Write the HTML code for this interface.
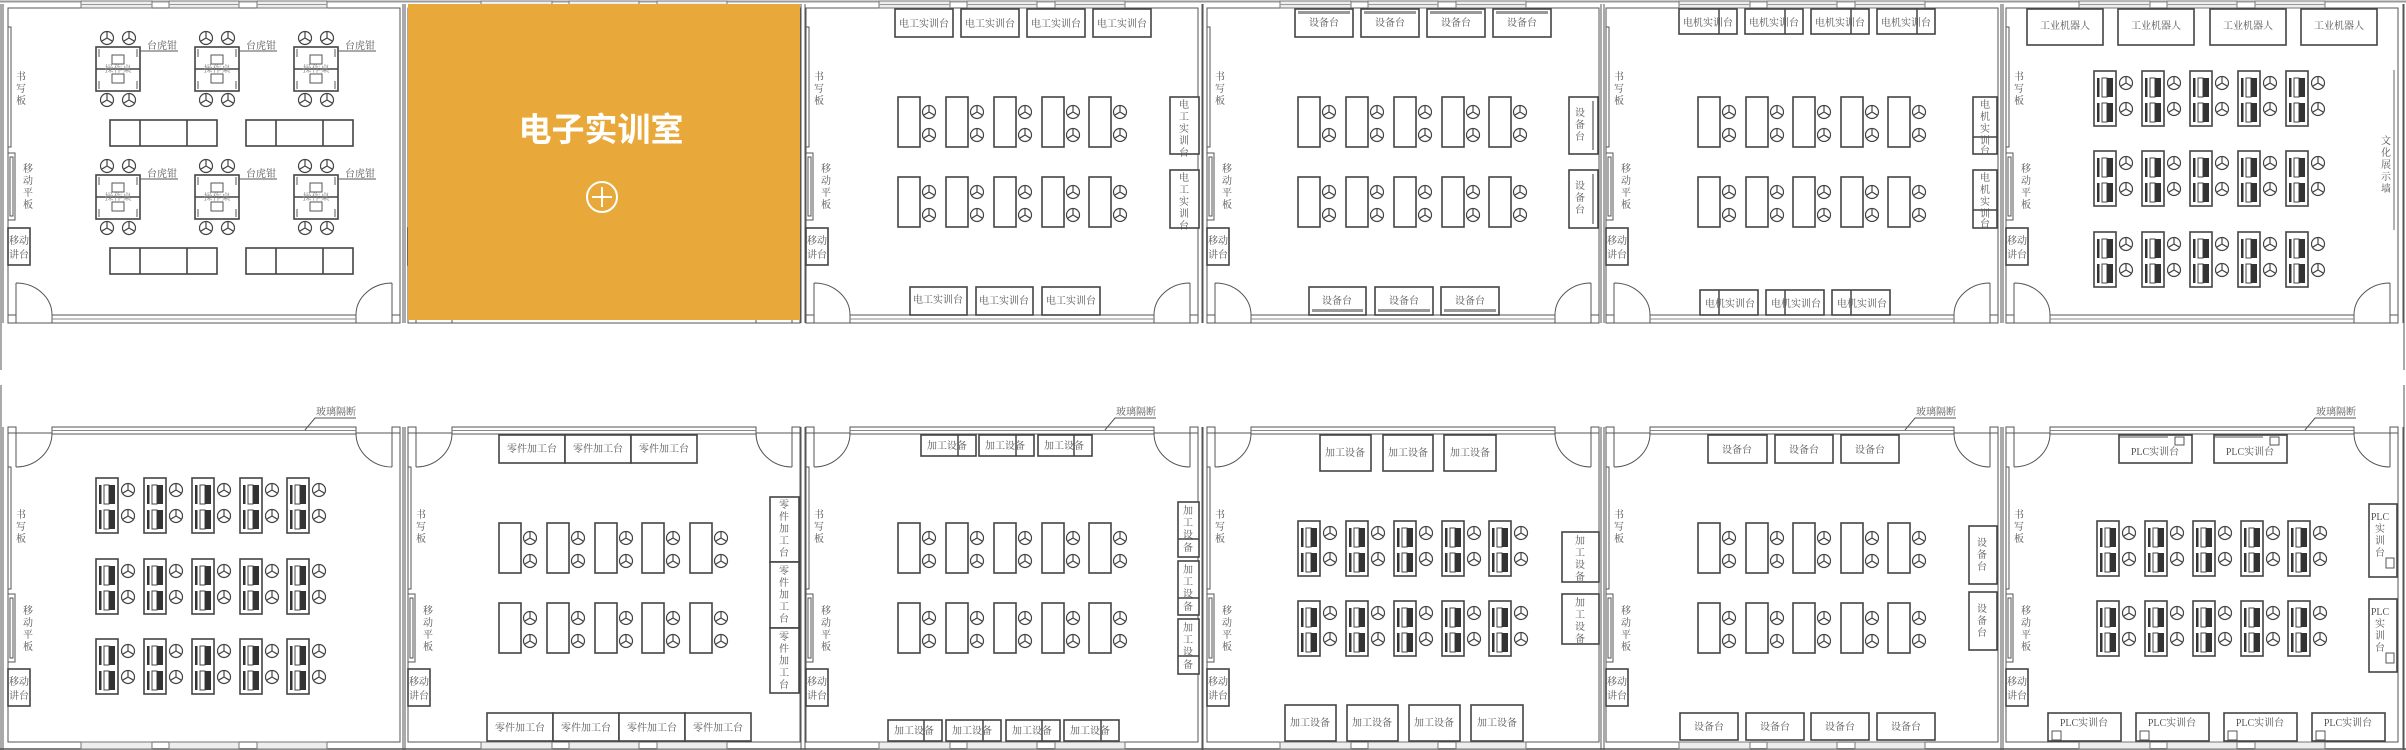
<!DOCTYPE html>
<html><head><meta charset="utf-8">
<style>
html,body{margin:0;padding:0;background:#fff;}
svg{display:block;}
text{font-family:"Liberation Serif","Noto Serif CJK SC",serif;font-size:10px;fill:#555;text-anchor:middle;}
.w{fill:none;stroke:#555;stroke-width:1;}
.b{fill:#fff;stroke:#444;stroke-width:1.6;}
</style></head><body>
<svg width="2406" height="750" viewBox="0 0 2406 750" xmlns="http://www.w3.org/2000/svg">
<defs>
<g id="c"><circle r="6.5" fill="#fff" stroke="#444" stroke-width="1.2"/><path d="M0,0V-6.5M0,0L5.6,3.3M0,0L-5.6,3.3" stroke="#444" stroke-width="1.2" fill="none"/></g>
<g id="d"><rect width="22" height="50" class="b"/><use href="#c" x="31" y="15"/><use href="#c" x="31" y="38"/></g>
<g id="p"><rect width="22" height="55" class="b" stroke-width="2"/>
<rect x="3" y="7" width="2.5" height="19" fill="#333"/><rect x="8" y="7" width="5" height="19" fill="#fff" stroke="#444"/><rect x="13" y="7" width="6" height="19" fill="#333"/>
<rect x="3" y="32" width="2.5" height="19" fill="#333"/><rect x="8" y="32" width="5" height="19" fill="#fff" stroke="#444"/><rect x="13" y="32" width="6" height="19" fill="#333"/>
<use href="#c" x="32" y="12"/><use href="#c" x="32" y="38"/></g>
<g id="ws"><rect width="44" height="44" class="b"/><line x1="0" y1="22" x2="44" y2="22" stroke="#444" stroke-width="1.6"/>
<rect x="16" y="8" width="12" height="9" class="w"/><rect x="16" y="27" width="12" height="9" class="w"/>
<path d="M3,2v8M41,2v8M3,34v8M41,34v8" class="w"/>
<text x="22" y="25" style="font-size:9px;fill:#888">操作桌</text>
<use href="#c" x="11" y="-9"/><use href="#c" x="33" y="-9"/><use href="#c" x="11" y="53"/><use href="#c" x="33" y="53"/>
<path d="M44,4H82" class="w"/></g>
<g id="lt"><rect width="107" height="26" class="b"/><path d="M30,0v26M77,0v26" stroke="#444" stroke-width="1.6"/></g>
<!-- room shells -->
<g id="top">
<rect x="0" y="8" width="392" height="315" fill="none" stroke="#555"/>
<path d="M-5,4V323M397,4V323" class="w"/>
<rect x="44" y="315" width="304" height="8" fill="#fff" stroke="#555"/><line x1="44" y1="319" x2="348" y2="319" stroke="#888"/>
<path d="M8,283V315M8,283A36,32 0 0 1 44,315M384,283V315M384,283A36,32 0 0 0 348,315" class="w"/>
<rect x="0" y="315" width="8" height="8" fill="none" stroke="#555"/><rect x="384" y="315" width="8" height="8" fill="none" stroke="#555"/>
<g fill="#eee" stroke="#777"><rect x="73" y="1" width="71" height="7"/><rect x="161" y="1" width="70" height="7"/><rect x="249" y="1" width="70" height="7"/></g>
<path d="M73,4.5h71M161,4.5h70M249,4.5h70" stroke="#999"/>
<rect x="0" y="27" width="3" height="120" class="w"/>
<text x="13" y="80">书</text><text x="13" y="92">写</text><text x="13" y="104">板</text>
<rect x="0" y="153" width="7" height="67" class="w"/><rect x="2" y="157" width="3" height="59" class="w"/>
<text x="20" y="172">移</text><text x="20" y="184">动</text><text x="20" y="196">平</text><text x="20" y="208">板</text>
<rect x="0" y="228" width="22" height="37" class="b"/><text x="11" y="244">移动</text><text x="11" y="258">讲台</text>
</g>
<g id="bot">
<rect x="0" y="433" width="392" height="309" fill="none" stroke="#555"/>
<path d="M-5,427V750M397,427V750" class="w"/>
<rect x="44" y="427" width="304" height="7" fill="#fff" stroke="#555"/><line x1="44" y1="430.5" x2="348" y2="430.5" stroke="#888"/>
<path d="M8,433V467M8,467A36,34 0 0 0 44,433M384,433V467M384,467A36,34 0 0 1 348,433" class="w"/>
<rect x="0" y="427" width="8" height="6" fill="none" stroke="#555"/><rect x="384" y="427" width="8" height="6" fill="none" stroke="#555"/>
<g fill="#eee" stroke="#777"><rect x="73" y="742" width="71" height="7"/><rect x="161" y="742" width="70" height="7"/><rect x="249" y="742" width="70" height="7"/></g>
<rect x="0" y="467" width="3" height="122" class="w"/>
<text x="13" y="518">书</text><text x="13" y="530">写</text><text x="13" y="542">板</text>
<rect x="0" y="594" width="7" height="68" class="w"/><rect x="2" y="598" width="3" height="60" class="w"/>
<text x="20" y="614">移</text><text x="20" y="626">动</text><text x="20" y="638">平</text><text x="20" y="650">板</text>
<rect x="0" y="669" width="22" height="37" class="b"/><text x="11" y="685">移动</text><text x="11" y="699">讲台</text>
</g>
</defs>

<line x1="0" y1="1.5" x2="2406" y2="1.5" stroke="#999" stroke-width="2"/>
<line x1="0" y1="749" x2="2406" y2="749" stroke="#555" stroke-width="1.5"/>
<path d="M1,4V370M1,385V750M2404,4V370M2404,385V750" class="w"/>

<use href="#top" x="8"/><use href="#top" x="408"/><use href="#top" x="806"/><use href="#top" x="1207"/><use href="#top" x="1606"/><use href="#top" x="2006"/>
<use href="#bot" x="8"/><use href="#bot" x="408"/><use href="#bot" x="806"/><use href="#bot" x="1207"/><use href="#bot" x="1606"/><use href="#bot" x="2006"/>

<!-- glass labels -->
<g><path d="M305,430L315,418H356" class="w"/><text x="336" y="415">玻璃隔断</text></g>
<g><path d="M1105,430L1115,418H1156" class="w"/><text x="1136" y="415">玻璃隔断</text></g>
<g><path d="M1905,430L1915,418H1956" class="w"/><text x="1936" y="415">玻璃隔断</text></g>
<g><path d="M2305,430L2315,418H2356" class="w"/><text x="2336" y="415">玻璃隔断</text></g>

<!-- Room 1 -->
<use href="#ws" x="96" y="47"/><use href="#ws" x="195" y="47"/><use href="#ws" x="294" y="47"/>
<use href="#ws" x="96" y="175"/><use href="#ws" x="195" y="175"/><use href="#ws" x="294" y="175"/>
<text x="162" y="49">台虎钳</text><text x="261" y="49">台虎钳</text><text x="360" y="49">台虎钳</text>
<text x="162" y="177">台虎钳</text><text x="261" y="177">台虎钳</text><text x="360" y="177">台虎钳</text>
<use href="#lt" x="110" y="120"/><use href="#lt" x="246" y="120"/><use href="#lt" x="110" y="248"/><use href="#lt" x="246" y="248"/>

<!-- Room 3 电工 -->
<g>
<rect x="895" y="9" width="58" height="28" class="b"/><text x="924" y="27">电工实训台</text>
<rect x="961" y="9" width="58" height="28" class="b"/><text x="990" y="27">电工实训台</text>
<rect x="1027" y="9" width="58" height="28" class="b"/><text x="1056" y="27">电工实训台</text>
<rect x="1093" y="9" width="58" height="28" class="b"/><text x="1122" y="27">电工实训台</text>
<rect x="910" y="287" width="57" height="28" class="b"/><text x="938" y="303">电工实训台</text>
<rect x="976" y="287" width="57" height="28" class="b"/><text x="1004" y="304">电工实训台</text>
<rect x="1042" y="287" width="58" height="28" class="b"/><text x="1071" y="304">电工实训台</text>
<rect x="1170" y="97" width="29" height="57" class="b"/><text x="1184" y="108">电</text><text x="1184" y="120">工</text><text x="1184" y="132">实</text><text x="1184" y="144">训</text><text x="1184" y="156">台</text>
<rect x="1170" y="170" width="29" height="58" class="b"/><text x="1184" y="181">电</text><text x="1184" y="193">工</text><text x="1184" y="205">实</text><text x="1184" y="217">训</text><text x="1184" y="229">台</text>
<use href="#d" x="898" y="97"/><use href="#d" x="946" y="97"/><use href="#d" x="994" y="97"/><use href="#d" x="1042" y="97"/><use href="#d" x="1089" y="97"/>
<use href="#d" x="898" y="177"/><use href="#d" x="946" y="177"/><use href="#d" x="994" y="177"/><use href="#d" x="1042" y="177"/><use href="#d" x="1089" y="177"/>
</g>

<!-- Room 4 设备 -->
<g>
<rect x="1295" y="9" width="58" height="28" class="b"/><rect x="1298" y="11" width="52" height="3" fill="#999"/><text x="1324" y="26">设备台</text>
<rect x="1361" y="9" width="58" height="28" class="b"/><rect x="1364" y="11" width="52" height="3" fill="#999"/><text x="1390" y="26">设备台</text>
<rect x="1427" y="9" width="58" height="28" class="b"/><rect x="1430" y="11" width="52" height="3" fill="#999"/><text x="1456" y="26">设备台</text>
<rect x="1493" y="9" width="58" height="28" class="b"/><rect x="1496" y="11" width="52" height="3" fill="#999"/><text x="1522" y="26">设备台</text>
<rect x="1309" y="287" width="57" height="28" class="b"/><rect x="1312" y="309" width="51" height="3" fill="#999"/><text x="1337" y="304">设备台</text>
<rect x="1375" y="287" width="58" height="28" class="b"/><rect x="1378" y="309" width="52" height="3" fill="#999"/><text x="1404" y="304">设备台</text>
<rect x="1441" y="287" width="58" height="28" class="b"/><rect x="1444" y="309" width="52" height="3" fill="#999"/><text x="1470" y="304">设备台</text>
<rect x="1569" y="97" width="29" height="57" class="b"/><rect x="1592" y="101" width="2" height="49" fill="#999"/><text x="1580" y="116">设</text><text x="1580" y="128">备</text><text x="1580" y="140">台</text>
<rect x="1569" y="170" width="29" height="58" class="b"/><rect x="1592" y="174" width="2" height="50" fill="#999"/><text x="1580" y="189">设</text><text x="1580" y="201">备</text><text x="1580" y="213">台</text>
<use href="#d" x="1298" y="97"/><use href="#d" x="1346" y="97"/><use href="#d" x="1394" y="97"/><use href="#d" x="1442" y="97"/><use href="#d" x="1489" y="97"/>
<use href="#d" x="1298" y="177"/><use href="#d" x="1346" y="177"/><use href="#d" x="1394" y="177"/><use href="#d" x="1442" y="177"/><use href="#d" x="1489" y="177"/>
</g>

<!-- Room 5 电机 -->
<g>
<rect x="1679" y="9" width="58" height="25" class="b"/><line x1="1719" y1="9" x2="1719" y2="34" stroke="#444" stroke-width="1.5"/><text x="1708" y="26">电机实训台</text>
<rect x="1745" y="9" width="58" height="25" class="b"/><line x1="1785" y1="9" x2="1785" y2="34" stroke="#444" stroke-width="1.5"/><text x="1774" y="26">电机实训台</text>
<rect x="1811" y="9" width="58" height="25" class="b"/><line x1="1851" y1="9" x2="1851" y2="34" stroke="#444" stroke-width="1.5"/><text x="1840" y="26">电机实训台</text>
<rect x="1877" y="9" width="58" height="25" class="b"/><line x1="1917" y1="9" x2="1917" y2="34" stroke="#444" stroke-width="1.5"/><text x="1906" y="26">电机实训台</text>
<rect x="1700" y="290" width="58" height="25" class="b"/><line x1="1719" y1="290" x2="1719" y2="315" stroke="#444" stroke-width="1.5"/><text x="1730" y="307">电机实训台</text>
<rect x="1766" y="290" width="58" height="25" class="b"/><line x1="1785" y1="290" x2="1785" y2="315" stroke="#444" stroke-width="1.5"/><text x="1796" y="307">电机实训台</text>
<rect x="1832" y="290" width="58" height="25" class="b"/><line x1="1851" y1="290" x2="1851" y2="315" stroke="#444" stroke-width="1.5"/><text x="1862" y="307">电机实训台</text>
<rect x="1973" y="97" width="24" height="57" class="b"/><line x1="1973" y1="137" x2="1997" y2="137" stroke="#444" stroke-width="1.5"/><text x="1985" y="108">电</text><text x="1985" y="120">机</text><text x="1985" y="132">实</text><text x="1985" y="144">训</text><text x="1985" y="154">台</text>
<rect x="1973" y="170" width="24" height="58" class="b"/><line x1="1973" y1="210" x2="1997" y2="210" stroke="#444" stroke-width="1.5"/><text x="1985" y="181">电</text><text x="1985" y="193">机</text><text x="1985" y="205">实</text><text x="1985" y="217">训</text><text x="1985" y="227">台</text>
<use href="#d" x="1698" y="97"/><use href="#d" x="1746" y="97"/><use href="#d" x="1793" y="97"/><use href="#d" x="1841" y="97"/><use href="#d" x="1888" y="97"/>
<use href="#d" x="1698" y="177"/><use href="#d" x="1746" y="177"/><use href="#d" x="1793" y="177"/><use href="#d" x="1841" y="177"/><use href="#d" x="1888" y="177"/>
</g>

<!-- Room 6 工业机器人 -->
<g>
<rect x="2027" y="9" width="76" height="36" class="b"/><text x="2065" y="29">工业机器人</text>
<rect x="2118" y="9" width="76" height="36" class="b"/><text x="2156" y="29">工业机器人</text>
<rect x="2210" y="9" width="76" height="36" class="b"/><text x="2248" y="29">工业机器人</text>
<rect x="2301" y="9" width="76" height="36" class="b"/><text x="2339" y="29">工业机器人</text>
<line x1="2394" y1="70" x2="2394" y2="230" stroke="#666"/>
<text x="2386" y="144">文</text><text x="2386" y="156">化</text><text x="2386" y="168">展</text><text x="2386" y="180">示</text><text x="2386" y="192">墙</text>
<use href="#p" x="2094" y="71"/><use href="#p" x="2142" y="71"/><use href="#p" x="2190" y="71"/><use href="#p" x="2238" y="71"/><use href="#p" x="2286" y="71"/>
<use href="#p" x="2094" y="151"/><use href="#p" x="2142" y="151"/><use href="#p" x="2190" y="151"/><use href="#p" x="2238" y="151"/><use href="#p" x="2286" y="151"/>
<use href="#p" x="2094" y="232"/><use href="#p" x="2142" y="232"/><use href="#p" x="2190" y="232"/><use href="#p" x="2238" y="232"/><use href="#p" x="2286" y="232"/>
</g>

<!-- B1 -->
<use href="#p" x="96" y="478"/><use href="#p" x="144" y="478"/><use href="#p" x="192" y="478"/><use href="#p" x="240" y="478"/><use href="#p" x="287" y="478"/>
<use href="#p" x="96" y="559"/><use href="#p" x="144" y="559"/><use href="#p" x="192" y="559"/><use href="#p" x="240" y="559"/><use href="#p" x="287" y="559"/>
<use href="#p" x="96" y="639"/><use href="#p" x="144" y="639"/><use href="#p" x="192" y="639"/><use href="#p" x="240" y="639"/><use href="#p" x="287" y="639"/>

<!-- B2 零件加工 -->
<g>
<rect x="499" y="435" width="66" height="28" class="b"/><text x="532" y="452">零件加工台</text>
<rect x="565" y="435" width="66" height="28" class="b"/><text x="598" y="452">零件加工台</text>
<rect x="631" y="435" width="66" height="28" class="b"/><text x="664" y="452">零件加工台</text>
<rect x="487" y="713" width="66" height="28" class="b"/><text x="520" y="731">零件加工台</text>
<rect x="553" y="713" width="66" height="28" class="b"/><text x="586" y="731">零件加工台</text>
<rect x="619" y="713" width="66" height="28" class="b"/><text x="652" y="731">零件加工台</text>
<rect x="685" y="713" width="66" height="28" class="b"/><text x="718" y="731">零件加工台</text>
<rect x="770" y="497" width="29" height="65" class="b"/><text x="784" y="508">零</text><text x="784" y="520">件</text><text x="784" y="532">加</text><text x="784" y="544">工</text><text x="784" y="556">台</text>
<rect x="770" y="562" width="29" height="66" class="b"/><text x="784" y="574">零</text><text x="784" y="586">件</text><text x="784" y="598">加</text><text x="784" y="610">工</text><text x="784" y="622">台</text>
<rect x="770" y="628" width="29" height="65" class="b"/><text x="784" y="640">零</text><text x="784" y="652">件</text><text x="784" y="664">加</text><text x="784" y="676">工</text><text x="784" y="688">台</text>
<use href="#d" x="499" y="523"/><use href="#d" x="547" y="523"/><use href="#d" x="595" y="523"/><use href="#d" x="642" y="523"/><use href="#d" x="690" y="523"/>
<use href="#d" x="499" y="603"/><use href="#d" x="547" y="603"/><use href="#d" x="595" y="603"/><use href="#d" x="642" y="603"/><use href="#d" x="690" y="603"/>
</g>

<!-- B3 加工设备 -->
<g>
<rect x="921" y="435" width="55" height="21" class="b"/><line x1="958" y1="435" x2="958" y2="456" stroke="#444" stroke-width="1.5"/><text x="947" y="449">加工设备</text>
<rect x="979" y="435" width="55" height="21" class="b"/><line x1="1016" y1="435" x2="1016" y2="456" stroke="#444" stroke-width="1.5"/><text x="1005" y="449">加工设备</text>
<rect x="1038" y="435" width="54" height="21" class="b"/><line x1="1074" y1="435" x2="1074" y2="456" stroke="#444" stroke-width="1.5"/><text x="1064" y="449">加工设备</text>
<rect x="888" y="720" width="54" height="21" class="b"/><line x1="924" y1="720" x2="924" y2="741" stroke="#444" stroke-width="1.5"/><text x="914" y="734">加工设备</text>
<rect x="946" y="720" width="55" height="21" class="b"/><line x1="983" y1="720" x2="983" y2="741" stroke="#444" stroke-width="1.5"/><text x="972" y="734">加工设备</text>
<rect x="1006" y="720" width="54" height="21" class="b"/><line x1="1042" y1="720" x2="1042" y2="741" stroke="#444" stroke-width="1.5"/><text x="1032" y="734">加工设备</text>
<rect x="1064" y="720" width="55" height="21" class="b"/><line x1="1101" y1="720" x2="1101" y2="741" stroke="#444" stroke-width="1.5"/><text x="1090" y="734">加工设备</text>
<rect x="1178" y="502" width="21" height="55" class="b"/><line x1="1178" y1="539" x2="1199" y2="539" stroke="#444" stroke-width="1.5"/><text x="1188" y="514">加</text><text x="1188" y="526">工</text><text x="1188" y="538">设</text><text x="1188" y="551">备</text>
<rect x="1178" y="561" width="21" height="54" class="b"/><line x1="1178" y1="598" x2="1199" y2="598" stroke="#444" stroke-width="1.5"/><text x="1188" y="573">加</text><text x="1188" y="585">工</text><text x="1188" y="597">设</text><text x="1188" y="610">备</text>
<rect x="1178" y="619" width="21" height="55" class="b"/><line x1="1178" y1="656" x2="1199" y2="656" stroke="#444" stroke-width="1.5"/><text x="1188" y="631">加</text><text x="1188" y="643">工</text><text x="1188" y="655">设</text><text x="1188" y="668">备</text>
<use href="#d" x="898" y="523"/><use href="#d" x="946" y="523"/><use href="#d" x="994" y="523"/><use href="#d" x="1042" y="523"/><use href="#d" x="1089" y="523"/>
<use href="#d" x="898" y="603"/><use href="#d" x="946" y="603"/><use href="#d" x="994" y="603"/><use href="#d" x="1042" y="603"/><use href="#d" x="1089" y="603"/>
</g>

<!-- B4 -->
<g>
<rect x="1320" y="435" width="51" height="36" class="b"/><text x="1345" y="456">加工设备</text>
<rect x="1383" y="435" width="50" height="36" class="b"/><text x="1408" y="456">加工设备</text>
<rect x="1444" y="435" width="52" height="36" class="b"/><text x="1470" y="456">加工设备</text>
<rect x="1285" y="705" width="51" height="36" class="b"/><text x="1310" y="726">加工设备</text>
<rect x="1347" y="705" width="51" height="36" class="b"/><text x="1372" y="726">加工设备</text>
<rect x="1409" y="705" width="51" height="36" class="b"/><text x="1434" y="726">加工设备</text>
<rect x="1471" y="705" width="52" height="36" class="b"/><text x="1497" y="726">加工设备</text>
<rect x="1562" y="532" width="37" height="50" class="b"/><text x="1580" y="544">加</text><text x="1580" y="556">工</text><text x="1580" y="568">设</text><text x="1580" y="580">备</text>
<rect x="1562" y="594" width="37" height="50" class="b"/><text x="1580" y="606">加</text><text x="1580" y="618">工</text><text x="1580" y="630">设</text><text x="1580" y="642">备</text>
<use href="#p" x="1298" y="521"/><use href="#p" x="1346" y="521"/><use href="#p" x="1394" y="521"/><use href="#p" x="1442" y="521"/><use href="#p" x="1489" y="521"/>
<use href="#p" x="1298" y="601"/><use href="#p" x="1346" y="601"/><use href="#p" x="1394" y="601"/><use href="#p" x="1442" y="601"/><use href="#p" x="1489" y="601"/>
</g>

<!-- B5 设备台 -->
<g>
<rect x="1708" y="435" width="59" height="28" class="b"/><text x="1737" y="453">设备台</text>
<rect x="1775" y="435" width="58" height="28" class="b"/><text x="1804" y="453">设备台</text>
<rect x="1841" y="435" width="58" height="28" class="b"/><text x="1870" y="453">设备台</text>
<rect x="1680" y="713" width="58" height="27" class="b"/><text x="1709" y="730">设备台</text>
<rect x="1746" y="713" width="58" height="27" class="b"/><text x="1775" y="730">设备台</text>
<rect x="1811" y="713" width="58" height="27" class="b"/><text x="1840" y="730">设备台</text>
<rect x="1877" y="713" width="58" height="27" class="b"/><text x="1906" y="730">设备台</text>
<rect x="1969" y="526" width="28" height="58" class="b"/><text x="1982" y="546">设</text><text x="1982" y="558">备</text><text x="1982" y="570">台</text>
<rect x="1969" y="592" width="28" height="58" class="b"/><text x="1982" y="612">设</text><text x="1982" y="624">备</text><text x="1982" y="636">台</text>
<use href="#d" x="1698" y="523"/><use href="#d" x="1746" y="523"/><use href="#d" x="1793" y="523"/><use href="#d" x="1841" y="523"/><use href="#d" x="1888" y="523"/>
<use href="#d" x="1698" y="603"/><use href="#d" x="1746" y="603"/><use href="#d" x="1793" y="603"/><use href="#d" x="1841" y="603"/><use href="#d" x="1888" y="603"/>
</g>

<!-- B6 PLC -->
<g>
<rect x="2119" y="435" width="73" height="28" class="b"/><rect x="2175" y="437" width="9" height="8" class="w"/><path d="M2119,437H2168" class="w"/><text x="2155" y="455">PLC实训台</text>
<rect x="2214" y="435" width="73" height="28" class="b"/><rect x="2270" y="437" width="9" height="8" class="w"/><path d="M2214,437H2263" class="w"/><text x="2250" y="455">PLC实训台</text>
<rect x="2048" y="713" width="73" height="28" class="b"/><rect x="2052" y="731" width="9" height="9" class="w"/><text x="2084" y="726">PLC实训台</text>
<rect x="2136" y="713" width="73" height="28" class="b"/><rect x="2140" y="731" width="9" height="9" class="w"/><text x="2172" y="726">PLC实训台</text>
<rect x="2224" y="713" width="73" height="28" class="b"/><rect x="2228" y="731" width="9" height="9" class="w"/><text x="2260" y="726">PLC实训台</text>
<rect x="2312" y="713" width="73" height="28" class="b"/><rect x="2316" y="731" width="9" height="9" class="w"/><text x="2348" y="726">PLC实训台</text>
<rect x="2369" y="504" width="28" height="73" class="b"/><rect x="2386" y="558" width="8" height="10" class="w"/><text x="2380" y="520">PLC</text><text x="2380" y="532">实</text><text x="2380" y="544">训</text><text x="2380" y="556">台</text>
<rect x="2369" y="599" width="28" height="73" class="b"/><rect x="2386" y="653" width="8" height="10" class="w"/><text x="2380" y="615">PLC</text><text x="2380" y="627">实</text><text x="2380" y="639">训</text><text x="2380" y="651">台</text>
<use href="#p" x="2097" y="521"/><use href="#p" x="2145" y="521"/><use href="#p" x="2193" y="521"/><use href="#p" x="2241" y="521"/><use href="#p" x="2288" y="521"/>
<use href="#p" x="2097" y="601"/><use href="#p" x="2145" y="601"/><use href="#p" x="2193" y="601"/><use href="#p" x="2241" y="601"/><use href="#p" x="2288" y="601"/>
</g>

<!-- Orange highlighted room -->
<rect x="408" y="4" width="392" height="316" fill="#E8A93A"/>
<text x="601" y="141" style="font-family:'Liberation Sans','Noto Sans CJK SC',sans-serif;font-size:33px;font-weight:bold;fill:#fff">电子实训室</text>
<circle cx="602" cy="197" r="15" fill="none" stroke="#fff" stroke-width="2"/>
<path d="M592,197H612M602,187V207" stroke="#fff" stroke-width="2"/>
</svg>
</body></html>
